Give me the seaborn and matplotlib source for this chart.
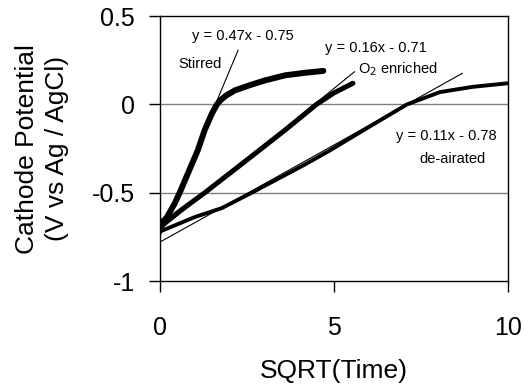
import numpy as np
import pandas as pd
import matplotlib
matplotlib.use("Agg")
import matplotlib.pyplot as plt
import seaborn as sns

# curve values (x = sqrt(time), y = potential)
stirred_x = [0, 0.2, 0.43, 0.57, 1.09, 1.29, 1.5, 1.64, 1.75, 1.9, 2.16, 2.6, 3.0, 3.6, 4.2, 4.7]
stirred_y = [-0.68, -0.64, -0.56, -0.5, -0.26, -0.145, -0.05, 0.0, 0.025, 0.05, 0.08, 0.11, 0.135, 0.165, 0.18, 0.19]

o2_x = [0, 0.14, 0.6, 1.29, 2.4, 3.6, 4.5, 5.0, 5.55]
o2_y = [-0.69, -0.67, -0.6, -0.5, -0.33, -0.145, 0.0, 0.065, 0.12]

deair_x = [0, 1.0, 1.78, 2.64, 4.17, 4.89, 6.03, 7.1, 8.05, 9.0, 10]
deair_y = [-0.72, -0.638, -0.587, -0.5, -0.34, -0.26, -0.125, 0.0, 0.07, 0.10, 0.12]

# linear fits (slope, intercept, x range)
fits = {
    "stirred": (0.47, -0.75, 0, 2.25),
    "o2": (0.16, -0.71, 0, 5.6),
    "deair": (0.11, -0.78, 0, 8.7),
}

sns.set_style("white")
plt.rcParams["font.family"] = ["Liberation Sans", "DejaVu Sans"]
plt.rcParams["text.color"] = "black"
plt.rcParams["axes.labelcolor"] = "black"
plt.rcParams["xtick.color"] = "black"
plt.rcParams["ytick.color"] = "black"
plt.rcParams["lines.solid_joinstyle"] = "round"

fig, ax = plt.subplots(figsize=(5.24, 3.85), dpi=100)
fig.subplots_adjust(left=0.305, right=0.969, top=0.958, bottom=0.270)

ax.axhline(0, color="#808080", lw=1, zorder=0)
ax.axhline(-0.5, color="#808080", lw=1, zorder=0)

df_s = pd.DataFrame({"x": stirred_x, "y": stirred_y})
df_o = pd.DataFrame({"x": o2_x, "y": o2_y})
df_d = pd.DataFrame({"x": deair_x, "y": deair_y})
sns.lineplot(data=df_s, x="x", y="y", color="black", lw=4.3, ax=ax, sort=False)
sns.lineplot(data=df_o, x="x", y="y", color="black", lw=3.6, ax=ax, sort=False)
sns.lineplot(data=df_d, x="x", y="y", color="black", lw=2.8, ax=ax, sort=False)

for k, (m, b, x0, x1) in fits.items():
    xx = np.array([x0, x1])
    ax.plot(xx, m * xx + b, color="black", lw=0.8)

fs = 10.5
ax.text(0.92, 0.39, "y = 0.47x - 0.75", fontsize=fs, va="center")
ax.text(0.52, 0.23, "Stirred", fontsize=fs, va="center")
ax.text(4.74, 0.32, "y = 0.16x - 0.71", fontsize=fs, va="center")
ax.text(5.69, 0.20, "O$_2$ enriched", fontsize=fs, va="center")
ax.text(6.8, -0.18, "y = 0.11x - 0.78", fontsize=fs, va="center")
ax.text(7.47, -0.31, "de-airated", fontsize=fs, va="center")

ax.set_xlim(0, 10)
ax.set_ylim(-1, 0.5)
ax.set_xticks([0, 5, 10])
ax.set_xticklabels(["0", "5", "10"])
ax.set_yticks([-1, -0.5, 0, 0.5])
ax.set_yticklabels(["-1", "-0.5", "0", "0.5"])
ax.tick_params(axis="both", labelsize=18, direction="out", length=8, width=1, color="black", bottom=True, left=True)
ax.tick_params(axis="y", pad=10)
ax.tick_params(axis="x", pad=17)

for s in ax.spines.values():
    s.set_color("black")
    s.set_linewidth(1)

ax.set_xlabel("SQRT(Time)", fontsize=19, labelpad=14)
ax.set_ylabel("Cathode Potential\n(V vs Ag / AgCl)", fontsize=19, labelpad=16, linespacing=1.35)

fig.savefig("out.png", dpi=100)
